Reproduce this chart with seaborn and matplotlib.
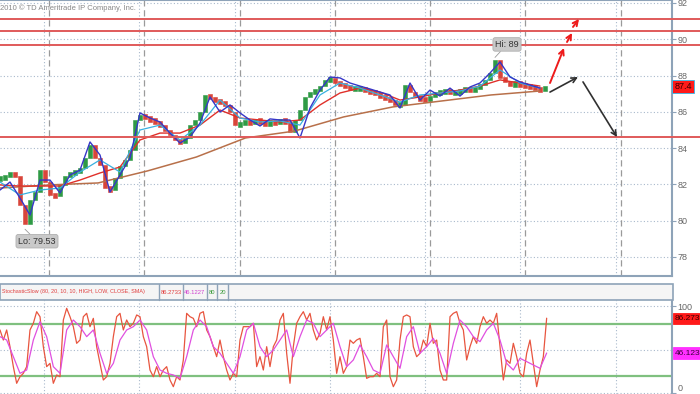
import numpy as np
import pandas as pd
import seaborn as sns
import matplotlib
matplotlib.use("Agg")
import matplotlib.pyplot as plt
import matplotlib.transforms as mtransforms
from matplotlib.patches import Rectangle
from matplotlib.lines import Line2D

# ---------------- data ----------------
closes = [82.35, 82.41, 82.68, 82.46, 80.86, 79.80, 81.14, 81.58, 82.79, 82.13,
          81.42, 81.36, 81.97, 82.46, 82.63, 82.68, 82.90, 83.46, 84.17, 83.46,
          83.07, 81.80, 81.69, 82.35, 83.01, 83.35, 83.90, 85.55, 85.83, 85.66,
          85.55, 85.44, 85.22, 85.00, 84.72, 84.45, 84.28, 84.56, 85.27, 85.55,
          85.99, 86.93, 86.76, 86.65, 86.54, 86.38, 85.99, 85.27, 85.38, 85.44,
          85.38, 85.55, 85.44, 85.33, 85.44, 85.38, 85.55, 85.44, 84.89, 85.55,
          86.10, 86.82, 87.09, 87.20, 87.42, 87.76, 87.76, 87.65, 87.48, 87.42,
          87.31, 87.31, 87.31, 87.20, 87.09, 87.04, 86.82, 86.76, 86.65, 86.38,
          86.38, 87.48, 87.09, 86.82, 86.71, 86.65, 86.87, 87.09, 87.09, 87.20,
          87.09, 87.09, 87.20, 87.31, 87.20, 87.31, 87.48, 87.76, 88.14, 88.85,
          87.87, 87.65, 87.48, 87.59, 87.48, 87.42, 87.37, 87.31, 87.20, 87.40]

ma_blue = [81.69, 82.13, 81.25, 80.31, 82.24, 82.24, 81.53, 82.52, 82.79, 84.34,
           83.62, 81.58, 82.52, 83.46, 85.94, 85.66, 85.44, 84.83, 84.28, 84.61,
           85.38, 86.82, 85.99, 86.38, 85.94, 85.55, 85.22, 85.61, 85.55, 85.55,
           84.56, 86.21, 87.20, 87.92, 87.87, 87.59, 87.42, 87.26, 87.09, 86.93,
           86.21, 87.59, 86.65, 87.20, 86.87, 87.31, 86.87, 87.37, 87.59, 88.14,
           88.75, 87.92, 87.65, 87.48, 87.31]
ma_cyan = [82.13, 81.42, 81.69, 81.80, 82.68, 83.35, 82.68, 85.00, 85.27, 84.45,
           85.27, 86.65, 85.66, 85.44, 85.50, 85.27, 86.93, 87.59, 87.31, 86.93,
           86.54, 86.93, 87.04, 87.15, 87.42, 88.31, 87.59, 87.31]
ma_red = [81.97, 81.91, 81.91, 81.91, 82.24, 82.63, 82.96, 84.45, 84.83, 84.83,
          85.27, 86.10, 85.66, 85.55, 85.44, 85.55, 86.38, 87.04, 87.31, 87.09,
          86.65, 86.82, 87.04, 87.20, 87.42, 87.76, 87.59, 87.42]
ma_brown = [81.80, 81.97, 82.08, 82.74, 83.51, 84.56, 84.94, 85.72, 86.27, 86.60,
            86.93, 87.15]

levels = [91.12, 90.43, 89.68, 84.61]
price_ticks = [78, 80, 82, 84, 86, 88, 90, 92]
hi_val, lo_val = 89.0, 79.53
last_price = 87.4

stoch_k = [72.7, 61.1, 72.7, 53.4, 30.4, 11.2, 18.8, 22.7, 30.4, 72.7,
           80.4, 93.8, 88.0, 53.4, 30.4, 34.2, 11.2, 20.8, 18.8, 84.2,
           97.7, 88.0, 76.5, 57.3, 61.1, 88.0, 91.9, 76.5, 86.1, 53.4,
           34.2, 15.0, 18.8, 34.2, 65.0, 88.0, 91.9, 72.7, 84.2, 76.5,
           80.4, 90.0, 88.0, 65.0, 53.4, 26.5, 18.8, 30.4, 18.8, 26.5,
           30.4, 15.0, 7.3, 18.8, 15.0, 38.1, 91.9, 88.0, 86.1, 76.5,
           91.9, 93.8, 72.7, 65.0, 53.4, 41.9, 61.1, 41.9, 26.5, 15.0,
           22.7, 18.8, 61.1, 76.5, 76.5, 76.5, 80.4, 30.4, 41.9, 26.5,
           53.4, 30.4, 53.4, 61.1, 84.2, 91.9, 45.8, 11.2, 53.4, 80.4,
           88.0, 93.8, 84.2, 91.9, 72.7, 61.1, 68.8, 88.0, 72.7, 88.0,
           61.1, 22.7, 41.9, 22.7, 30.4,
           61.1, 57.3, 61.1, 63.1, 41.9, 16.9, 18.8, 18.8, 22.7, 18.8,
           76.5, 84.2, 18.8, 7.3, 15.0, 61.1, 88.0, 90.0, 88.0, 53.4,
           41.9, 45.8, 61.1, 53.4, 80.4, 57.3, 61.1, 26.5, 15.0, 15.0,
           88.0, 91.9, 93.8, 80.4, 72.7, 38.1, 53.4, 65.0, 57.3, 76.5,
           88.0, 80.4, 84.2, 80.4, 91.9, 53.4, 15.0, 38.1, 34.2, 57.3,
           41.9, 22.7, 18.8, 45.8, 61.1, 34.2, 7.3, 26.5, 41.9, 86.3]
stoch_d = [65.0, 61.1, 41.9, 22.7, 26.5, 61.1, 82.3, 65.0, 30.4, 22.7,
           72.7, 84.2, 76.5, 65.0, 72.7, 45.8, 22.7, 34.2, 61.1, 72.7,
           76.5, 84.2, 72.7, 41.9, 26.5, 22.7, 20.8, 16.9, 41.9, 72.7,
           84.2, 76.5, 53.4, 45.8, 34.2, 22.7, 41.9, 72.7, 80.4, 53.4,
           41.9, 49.6, 61.1, 72.7, 41.9, 65.0, 84.2, 80.4, 65.0, 72.7,
           80.4, 53.4, 30.4,
           38.1, 55.4, 41.9, 26.5, 22.7, 55.4, 41.9, 28.5, 65.0, 76.5,
           45.8, 53.4, 63.1, 45.8, 22.7, 57.3, 84.2, 76.5, 65.0, 59.2,
           72.7, 80.4, 61.1, 34.2, 26.5, 40.0, 36.2, 32.3, 28.5, 46.1]
k_last, d_last = 86.2733, 46.1227
stoch_levels = [80, 20]

bull_arrows = [((110.0, 87.59), (112.8, 89.52)),
               ((113.4, 89.85), (114.4, 90.35)),
               ((114.6, 90.68), (115.8, 91.12))]
bear_arrows = [((110.0, 87.09), (115.6, 87.92)),
               ((116.6, 87.65), (123.4, 84.61))]

# ---------------- style ----------------
sns.set_style("white")
plt.rcParams["font.family"] = ["Liberation Sans Narrow", "Liberation Sans", "DejaVu Sans"]

W, H = 700, 394
PXB = 5.0                      # pixels per bar
XMAX = 672 / PXB
fig = plt.figure(figsize=(7.0, 3.94), dpi=100)
fig.patch.set_facecolor("white")

ax = fig.add_axes([0, 1 - 276 / H, 672 / W, 276 / H])
ax2 = fig.add_axes([0, 0, 672 / W, (H - 300) / H])

frame_c = "#8ea3b8"
grid_c = "#a9b9cc"
grid_bars = [8.8, 27.85, 46.9, 65.95, 85.0, 104.05, 123.1]

# ---------------- main panel ----------------
n = len(closes)
xb = np.arange(n)
c = np.array(closes)
o = np.concatenate([[c[0] - 0.08], c[:-1]])
up = c >= o
mid = (o + c) / 2.0
body_h = np.maximum(np.abs(c - o), 0.28)
body_lo = mid - body_h / 2.0
ax.bar(xb[up], body_h[up], bottom=body_lo[up], width=0.65, color="#2f9a45",
       edgecolor="#2f9a45", linewidth=0.4, zorder=3)
ax.bar(xb[~up], body_h[~up], bottom=body_lo[~up], width=0.65, color="#d9453a",
       edgecolor="#d9453a", linewidth=0.4, zorder=3)

df_main = pd.DataFrame({"x": np.linspace(0, n - 2, len(ma_brown)), "y": ma_brown})
sns.lineplot(data=df_main, x="x", y="y", ax=ax, color="#b8704a", lw=1.1, zorder=4)
sns.lineplot(x=np.linspace(0, n - 2, len(ma_red)), y=ma_red, ax=ax,
             color="#e0302a", lw=1.0, zorder=5)
sns.lineplot(x=np.linspace(0, n - 2, len(ma_cyan)), y=ma_cyan, ax=ax,
             color="#38b0e0", lw=0.9, zorder=5)
sns.lineplot(x=np.linspace(0, n - 2, len(ma_blue)), y=ma_blue, ax=ax,
             color="#3636c8", lw=1.0, zorder=6)

for lv in levels:
    ax.axhline(lv, xmin=0, xmax=W / 672, color="#e05a5a", lw=1.4, clip_on=False, zorder=7)

ax.set_xlim(0, XMAX)
ax.set_ylim(92 - (276 - 3) / 18.14, 92 + 3 / 18.14)
ax.set_yticks(price_ticks)
ax.set_yticklabels([str(t) for t in price_ticks])
ax.yaxis.tick_right()
ax.tick_params(axis="y", length=3, width=0.8, color=frame_c, pad=1, labelsize=6.5,
               labelcolor="#666666")
ax.set_xticks(grid_bars)
ax.tick_params(axis="x", length=0, labelbottom=False)
ax.grid(True, axis="both", ls=(0, (1, 2)), color=grid_c, lw=0.8)
for gb in grid_bars:
    ax.axvline(gb + 1.0, ls=(0, (5, 3)), color="#9a9a9a", lw=0.9, zorder=1)
ax.set_xlabel("")
ax.set_ylabel("")
ax.spines["left"].set_visible(False)
for s in ["top", "right", "bottom"]:
    ax.spines[s].set_color(frame_c)
    ax.spines[s].set_linewidth(1.5)

# arrows
for (x0, y0), (x1, y1) in bull_arrows:
    ax.annotate("", xy=(x1, y1), xytext=(x0, y0),
                arrowprops=dict(arrowstyle="->", color="#ee1a1a", lw=1.4,
                                mutation_scale=9, shrinkA=0, shrinkB=0), zorder=9)
for (x0, y0), (x1, y1) in bear_arrows:
    ax.annotate("", xy=(x1, y1), xytext=(x0, y0),
                arrowprops=dict(arrowstyle="->", color="#303030", lw=1.2,
                                mutation_scale=9, shrinkA=0, shrinkB=0),
                annotation_clip=False, zorder=9)

# hi / lo labels
hi_i = int(np.argmax(c))
lo_i = int(np.argmin(c))
box = dict(boxstyle="round,pad=0.25", fc="#c9c9c9", ec="#b0b0b0", lw=0.6)
ax.annotate(f"Hi: {hi_val:g}", xy=(hi_i, hi_val), xytext=(12, 13), textcoords="offset pixels",
            ha="center", va="center", fontsize=6.5, color="#333333", bbox=box,
            arrowprops=dict(arrowstyle="-", color="#999999", lw=0.6, shrinkA=0, shrinkB=0),
            zorder=10)
ax.annotate(f"Lo: {lo_val:g}", xy=(lo_i, lo_val), xytext=(12, -12), textcoords="offset pixels",
            ha="center", va="center", fontsize=6.5, color="#333333", bbox=box,
            arrowprops=dict(arrowstyle="-", color="#999999", lw=0.6, shrinkA=0, shrinkB=0),
            zorder=10)

# last price box
tr = mtransforms.blended_transform_factory(ax.transAxes, ax.transData)
ax.text(1.004, last_price, f"{last_price:g}", transform=tr, ha="left", va="center",
        fontsize=6.5, color="#3a0000",
        bbox=dict(boxstyle="square,pad=0.25", fc="#ff1a1a", ec="#33bbee", lw=0.6), zorder=11)

fig.text(0.0, 1 - 8 / H, "2010 \u00a9 TD Ameritrade IP Company, Inc.", fontsize=5.5,
         color="#888888", ha="left", va="center")

# ---------------- stochastic panel ----------------
kx = np.linspace(0, len(stoch_k) - 1, len(stoch_k)) * (2.0 / 3.0)
dx = np.linspace(0, len(stoch_d) - 1, len(stoch_d)) * (4.0 / 3.0)
for lv in stoch_levels:
    ax2.axhline(lv, color="#7fc07f", lw=1.6, zorder=2)
sns.lineplot(x=kx, y=stoch_k, ax=ax2, color="#e8553f", lw=0.9, zorder=4)
sns.lineplot(x=dx, y=stoch_d, ax=ax2, color="#e050e0", lw=0.9, zorder=5)
ax2.set_xlim(0, XMAX)
ax2.set_ylim((393 - 394) / 0.867, (393 - 300) / 0.867)
ax2.set_yticks([0, 50, 100])
ax2.set_yticklabels(["0", "", "100"])
ax2.yaxis.tick_right()
ax2.tick_params(axis="y", length=3, width=0.8, color=frame_c, pad=1, labelsize=6.5,
                labelcolor="#666666")
ax2.get_yticklabels()[0].set_verticalalignment("bottom")
ax2.set_xticks(grid_bars)
ax2.tick_params(axis="x", length=0, labelbottom=False)
ax2.grid(True, axis="both", ls=(0, (1, 2)), color=grid_c, lw=0.8)
ax2.set_xlabel("")
ax2.set_ylabel("")
for s in ["left", "bottom", "top"]:
    ax2.spines[s].set_visible(False)
ax2.spines["right"].set_color(frame_c)
ax2.spines["right"].set_linewidth(1.5)

tr2 = mtransforms.blended_transform_factory(ax2.transAxes, ax2.transData)
ax2.text(1.004, k_last, f"{k_last:.3f}", transform=tr2, ha="left", va="center",
         fontsize=6, color="#3a0000",
         bbox=dict(boxstyle="square,pad=0.25", fc="#ff1a1a", ec="#ff1a1a", lw=0.6), zorder=11)
ax2.text(1.004, d_last, f"{d_last:.3f}", transform=tr2, ha="left", va="center",
         fontsize=6, color="#3a003a",
         bbox=dict(boxstyle="square,pad=0.25", fc="#ff30ff", ec="#ff30ff", lw=0.6), zorder=11)

# header strip
fig.patches.append(Rectangle((0, 1 - 300 / H), 673 / W, 16 / H, transform=fig.transFigure,
                             fc="#f5f5f5", ec=frame_c, lw=1.2, zorder=0))
for sx in [159, 183, 207, 217, 228]:
    fig.add_artist(Line2D([sx / W, sx / W], [1 - 300 / H, 1 - 284 / H],
                          transform=fig.transFigure, color=frame_c, lw=1.0))
hy = 1 - 292 / H
fig.text(2 / W, hy, "StochasticSlow (80, 20, 10, 10, HIGH, LOW, CLOSE, SMA)", fontsize=3.9,
         color="#e03c3c", ha="left", va="center")
fig.text(171 / W, hy, f"{k_last:.4f}", fontsize=4.2, color="#e03c3c", ha="center", va="center")
fig.text(195 / W, hy, f"{d_last:.4f}", fontsize=4.2, color="#d040d0", ha="center", va="center")
fig.text(212 / W, hy, str(stoch_levels[0]), fontsize=4.2, color="#3a9a3a", ha="center", va="center")
fig.text(222.5 / W, hy, str(stoch_levels[1]), fontsize=4.2, color="#3a9a3a", ha="center", va="center")

fig.savefig("out.png", dpi=100)
